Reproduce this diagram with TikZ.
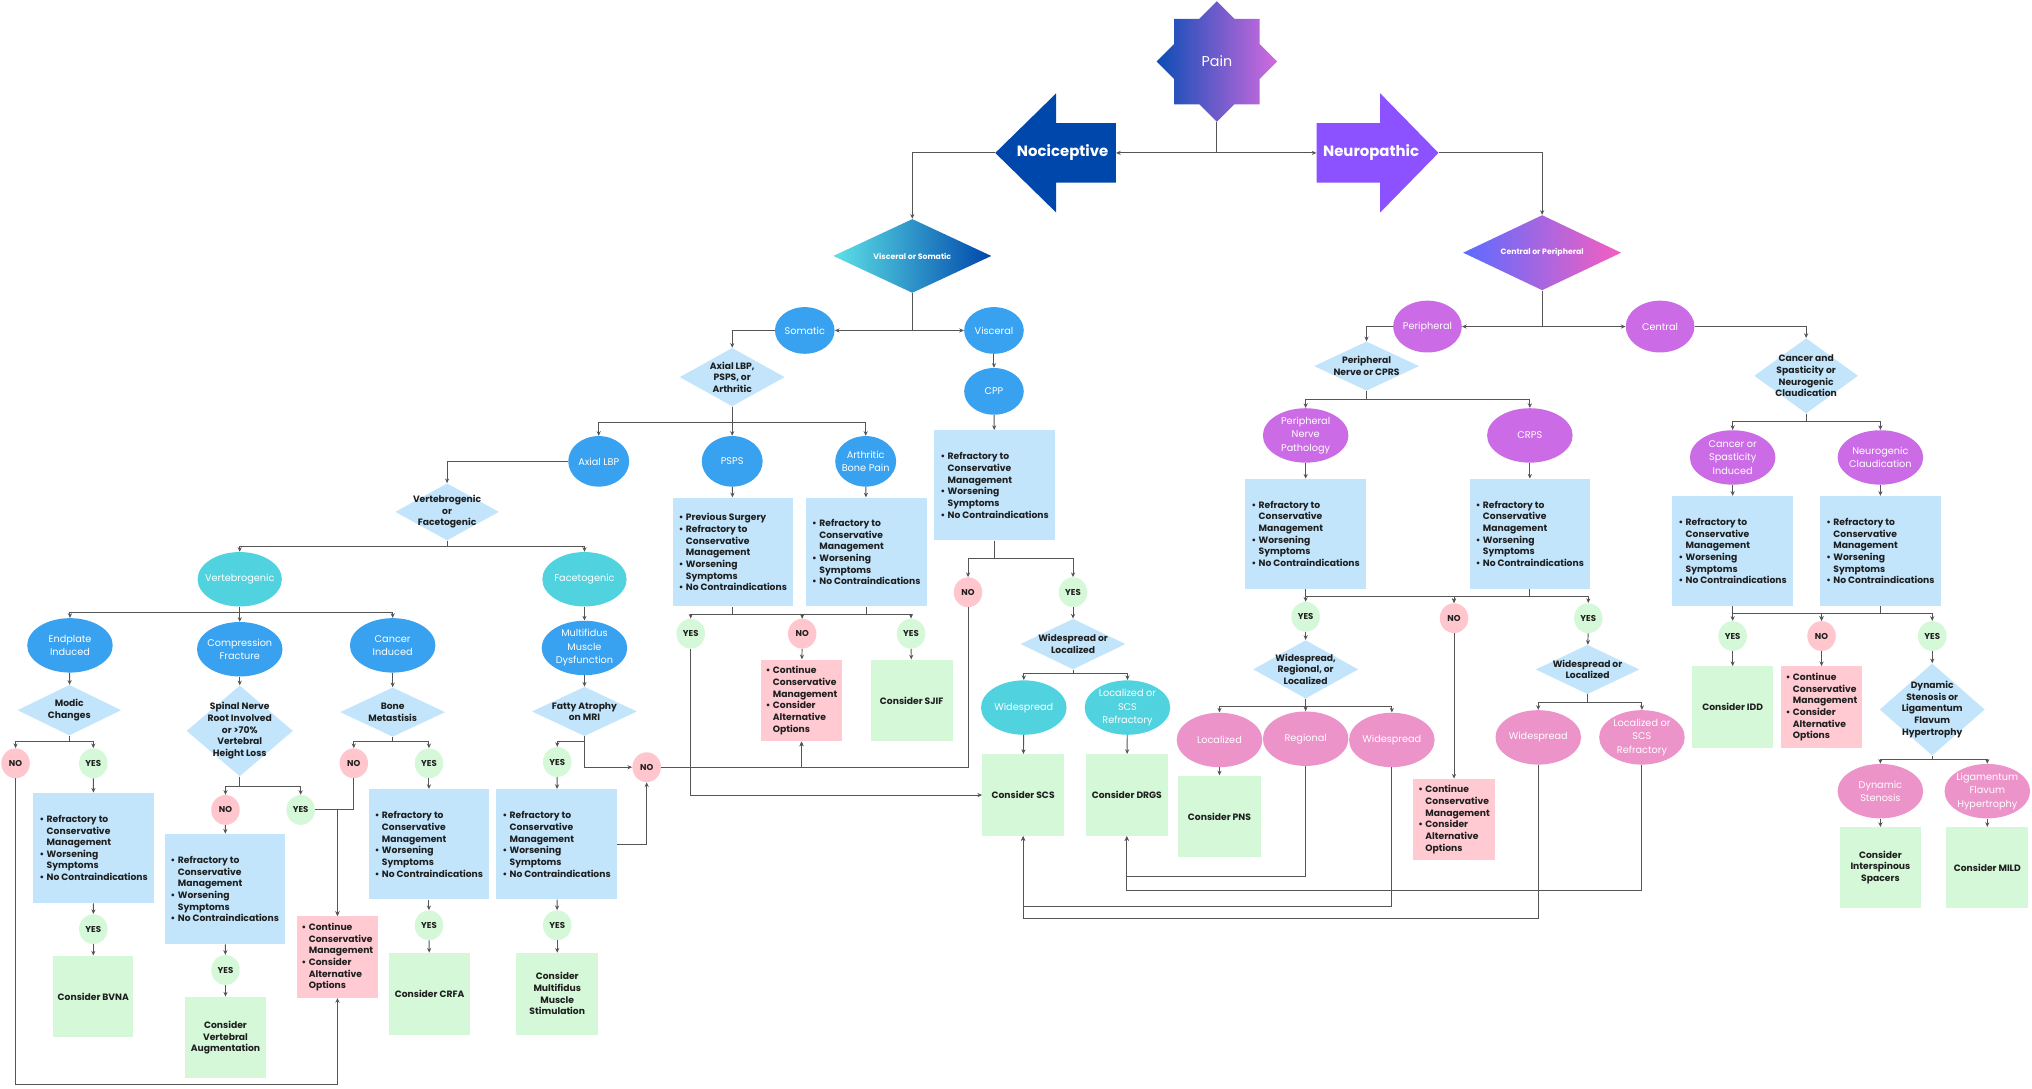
\documentclass[tikz,border=0pt]{standalone}
\usepackage{fontspec}
\setmainfont{Poppins}
\usetikzlibrary{shapes.geometric,arrows.meta}
\definecolor{lineC}{HTML}{555555}
\definecolor{lblue}{HTML}{C2E5FC}
\definecolor{lgreen}{HTML}{D5F8D8}
\definecolor{lpink}{HTML}{FFCAD2}
\definecolor{bblue}{HTML}{38A1F0}
\definecolor{turq}{HTML}{50D3DF}
\definecolor{purp}{HTML}{CB6CE6}
\definecolor{pinkE}{HTML}{EC93CA}
\definecolor{yesC}{HTML}{D5F8D8}
\definecolor{noC}{HTML}{FFC6CE}
\definecolor{nociC}{HTML}{0047AB}
\definecolor{neuroC}{HTML}{8C52FF}
\definecolor{txt}{HTML}{1E1E1E}
\definecolor{painL}{HTML}{0B4DB5}
\definecolor{painR}{HTML}{D36AE0}
\definecolor{vsL}{HTML}{5CE1E6}
\definecolor{vsR}{HTML}{0047AB}
\definecolor{cpL}{HTML}{5B6CFF}
\definecolor{cpR}{HTML}{F65FC0}
\newcommand\ftB{\fontsize{7.1}{9}\selectfont\bfseries}
\newcommand\ftE{\fontsize{7.5}{10.4}\selectfont}
\newcommand\ftY{\fontsize{6.6}{8}\selectfont\bfseries}
\newcommand\Bul{\makebox[5.5pt][l]{\textbullet}}
\newcommand\Ind{\hspace*{5.5pt}}
\newcommand\RefList{\Bul Refractory to\\\Ind Conservative\\\Ind Management\\\Bul Worsening\\\Ind Symptoms\\\Bul No Contraindications}
\newcommand\ContList{\Bul Continue\\\Ind Conservative\\\Ind Management\\\Bul Consider\\\Ind Alternative\\\Ind Options}
\tikzset{
  con/.style={draw=lineC, line width=0.75pt, -{Stealth[length=3.6pt,width=3.2pt]}},
  ell/.style={ellipse, inner sep=0pt, draw=none},
  E1/.style={minimum width=46pt, minimum height=36pt},
  E2/.style={minimum width=47pt, minimum height=39pt},
  E3/.style={minimum width=66pt, minimum height=42pt},
  E4/.style={minimum width=53pt, minimum height=40pt},
  etx/.style={text=white, font=\ftE, align=center, inner sep=0pt},
  dtx/.style={text=txt, font=\ftB, align=center, inner sep=0pt},
  dia/.style={diamond, inner sep=0pt, fill=lblue},
  bxB/.style={rectangle, inner sep=0pt, fill=lblue, minimum width=93pt, minimum height=85pt, font=\ftB, text=txt, align=left},
  bxG/.style={rectangle, inner sep=0pt, fill=lgreen, minimum width=63pt, minimum height=63pt, font=\ftB, text=txt, align=center},
  bxP/.style={rectangle, inner sep=0pt, fill=lpink, minimum width=63pt, minimum height=63pt, font=\ftB, text=txt, align=left},
  ynY/.style={ellipse, inner sep=0pt, fill=yesC, minimum width=22pt, minimum height=23pt, font=\ftY, text=txt},
  ynN/.style={ynY, fill=noC},
  arrtx/.style={text=white, font=\fontsize{11.5}{13}\selectfont\bfseries, inner sep=0pt},
}
\begin{document}
\begin{tikzpicture}[x=1pt,y=-1pt]
\useasboundingbox (0,0) rectangle (1568,840);
\fill[white] (0,0) rectangle (1568,840);

% ---------- top ----------
\shade[left color=painL, right color=painR] (939,1) -- (952.5,14.5) -- (972,14.5) -- (972,34) -- (985.5,47.5) -- (972,61) -- (972,80.5) -- (952.5,80.5) -- (939,94) -- (925.5,80.5) -- (906,80.5) -- (906,61) -- (892.5,47.5) -- (906,34) -- (906,14.5) -- (925.5,14.5) -- cycle;
\node[inner sep=0pt, minimum width=93pt, minimum height=93pt, text=white, font=\fontsize{11}{12}\selectfont] (pain) at (939,47.5) {Pain};
\fill[nociC] (768,118) -- (815,72) -- (815,95) -- (861,95) -- (861,141) -- (815,141) -- (815,164) -- cycle;
\node[inner sep=0pt, minimum width=93pt, minimum height=92pt] (noci) at (814.5,118) {};
\node[arrtx] (nocit) at (820,118) {Nociceptive};
\fill[neuroC] (1016,95) -- (1065,95) -- (1065,72) -- (1110,118) -- (1065,164) -- (1065,141) -- (1016,141) -- cycle;
\node[inner sep=0pt, minimum width=94pt, minimum height=92pt] (neuro) at (1063,118) {};
\node[arrtx] (neurot) at (1058,118) {Neuropathic};
\node[diamond, inner sep=0pt, minimum width=122pt, minimum height=57pt, left color=vsL, right color=vsR,
  label={[text=white,font=\fontsize{6}{7}\selectfont\bfseries]center:Visceral or Somatic}] (vs) at (704,197.5) {};
\node[diamond, inner sep=0pt, minimum width=122pt, minimum height=58pt, left color=cpL, right color=cpR,
  label={[text=white,font=\fontsize{6}{7}\selectfont\bfseries]center:Central or Peripheral}] (cp) at (1190,195) {};

% ---------- nociceptive side ----------
\node[ell,E1,fill=bblue,label={[etx]center:Somatic}] (somatic) at (621,255) {};
\node[ell,E1,fill=bblue,label={[etx]center:Visceral}] (visceral) at (767,255) {};
\node[dia,minimum width=81pt,minimum height=45pt,label={[dtx]center:{Axial LBP,\\PSPS, or\\Arthritic}}] (alp) at (565,291) {};
\node[ell,E1,fill=bblue,label={[etx]center:CPP}] (cpp) at (767,302) {};
\node[ell,E2,fill=bblue,label={[etx]center:Axial LBP}] (axial) at (462,356) {};
\node[ell,E2,fill=bblue,label={[etx]center:PSPS}] (psps) at (565,356) {};
\node[ell,E2,fill=bblue,label={[etx]center:{Arthritic\\Bone Pain}}] (arth) at (668,356) {};
\node[bxB] (cppbox) at (767.5,374.5) {\RefList};
\node[bxB,minimum height=84pt] (pspsbox) at (565.5,426) {\Bul Previous Surgery\\\RefList};
\node[bxB,minimum height=84pt] (arthbox) at (668.5,426) {\RefList};
\node[ynY] (yes1) at (533,489) {YES};
\node[ynN] (no1) at (619,489) {NO};
\node[ynY] (yes2) at (703,489) {YES};
\node[bxP] (cont1) at (618.5,540.5) {\ContList};
\node[bxG] (sjif) at (703.5,540.5) {Consider SJIF};
\node[ynN] (no2) at (747,457) {NO};
\node[ynY] (yes3) at (828,457) {YES};
\node[dia,minimum width=81pt,minimum height=39pt,label={[dtx]center:{Widespread or\\Localized}}] (wl1) at (828,497) {};
\node[ell,E3,fill=turq,label={[etx]center:Widespread}] (wsp1) at (790,546) {};
\node[ell,E3,fill=turq,label={[etx]center:{Localized or\\SCS\\Refractory}}] (lscs1) at (870,546) {};
\node[bxG] (scs) at (789.5,613.5) {Consider SCS};
\node[bxG] (drgs) at (869.5,613.5) {Consider DRGS};

% axial LBP branch
\node[dia,minimum width=80pt,minimum height=44pt,label={[dtx]center:{Vertebrogenic\\or\\Facetogenic}}] (vf) at (345,395) {};
\node[ell,minimum width=65pt,minimum height=42pt,fill=turq,label={[etx]center:Vertebrogenic}] (vert) at (185,447) {};
\node[ell,minimum width=65pt,minimum height=42pt,fill=turq,label={[etx]center:Facetogenic}] (facet) at (451,447) {};
\node[ell,E3,fill=bblue,label={[etx]center:{Endplate\\Induced}}] (endp) at (54,498) {};
\node[ell,E3,fill=bblue,label={[etx]center:{Compression\\Fracture}}] (comp) at (185,501) {};
\node[ell,E3,fill=bblue,label={[etx]center:{Cancer\\Induced}}] (canc) at (303,498) {};
\node[ell,E3,fill=bblue,label={[etx]center:{Multifidus\\Muscle\\Dysfunction}}] (mult) at (451,500) {};
\node[dia,minimum width=80pt,minimum height=39pt,label={[dtx]center:{Modic\\Changes}}] (modic) at (53.5,548) {};
\node[dia,minimum width=82pt,minimum height=70pt,label={[dtx]center:{Spinal Nerve\\Root Involved\\or >70\%\\Vertebral\\Height Loss}}] (snr) at (185,564) {};
\node[dia,minimum width=81pt,minimum height=38pt,label={[dtx]center:{Bone\\Metastisis}}] (bone) at (303,549.5) {};
\node[dia,minimum width=81pt,minimum height=38pt,label={[dtx]center:{Fatty Atrophy\\on MRI}}] (fatty) at (451,549) {};
\node[ynN] (no3) at (12,589) {NO};
\node[ynY] (yes4) at (72,589) {YES};
\node[ynN] (no4) at (273,589) {NO};
\node[ynY] (yes5) at (331,589) {YES};
\node[ynY] (yes6) at (430,588) {YES};
\node[ynN] (no5) at (499,592) {NO};
\node[ynN] (no6) at (174,625) {NO};
\node[ynY] (yes7) at (232,625) {YES};
\node[bxB] (ref1) at (72.3,654.3) {\RefList};
\node[ynY] (yes8) at (72,717) {YES};
\node[bxG,minimum width=62pt] (bvna) at (72,769) {Consider BVNA};
\node[bxB] (ref2) at (173.5,686) {\RefList};
\node[ynY] (yes9) at (174,748.5) {YES};
\node[bxG,minimum width=62pt] (va) at (174,800.7) {Consider\\Vertebral\\Augmentation};
\node[bxP] (cont2) at (260.4,738.5) {\ContList};
\node[bxB] (ref3) at (331,651.5) {\RefList};
\node[ynY] (yes10) at (331,714) {YES};
\node[bxG] (crfa) at (331.5,766.8) {Consider CRFA};
\node[bxB] (ref4) at (429.5,651.5) {\RefList};
\node[ynY] (yes11) at (430,714) {YES};
\node[bxG] (mms) at (430,766.8) {Consider\\Multifidus\\Muscle\\Stimulation};
\coordinate (botL) at (100,837);

% ---------- neuropathic side ----------
\node[ell,E4,fill=purp,label={[etx]center:Peripheral}] (periph) at (1101.5,252) {};
\node[ell,E4,fill=purp,label={[etx]center:Central}] (central) at (1281,252) {};
\node[dia,minimum width=81pt,minimum height=38pt,label={[dtx]center:{Peripheral\\Nerve or CPRS}}] (pnc) at (1054.5,282.5) {};
\node[dia,minimum width=80pt,minimum height=58pt,label={[dtx]center:{Cancer and\\Spasticity or\\Neurogenic\\Claudication}}] (csn) at (1393.7,290) {};
\node[ell,E3,fill=purp,label={[etx]center:{Peripheral\\Nerve\\Pathology}}] (pnp) at (1007.5,336) {};
\node[ell,E3,fill=purp,label={[etx]center:CRPS}] (crps) at (1180.5,336) {};
\node[bxB] (pnpbox) at (1007.5,412) {\RefList};
\node[bxB] (crpsbox) at (1180.5,412) {\RefList};
\node[ynY] (yes12) at (1007.5,476) {YES};
\node[ynN] (no7) at (1122,477) {NO};
\node[ynY] (yes13) at (1225.6,477) {YES};
\node[dia,minimum width=81pt,minimum height=45pt,label={[dtx]center:{Widespread,\\Regional, or\\Localized}}] (wrl) at (1007.5,516.5) {};
\node[ell,E3,fill=pinkE,label={[etx]center:Localized}] (loc) at (941,571) {};
\node[ell,E3,fill=pinkE,label={[etx]center:Regional}] (reg) at (1007.5,570) {};
\node[ell,E3,fill=pinkE,label={[etx]center:Widespread}] (wsp2) at (1074,571) {};
\node[bxG,minimum width=64pt] (pns) at (941,630) {Consider PNS};
\node[bxP] (cont3) at (1122,632.5) {\ContList};
\node[dia,minimum width=80pt,minimum height=38pt,label={[dtx]center:{Widespread or\\Localized}}] (wl2) at (1225,516.6) {};
\node[ell,E3,fill=pinkE,label={[etx]center:Widespread}] (wsp3) at (1187,569) {};
\node[ell,E3,fill=pinkE,label={[etx]center:{Localized or\\SCS\\Refractory}}] (lscs2) at (1267,569) {};
\node[ell,E3,fill=purp,label={[etx]center:{Cancer or\\Spasticity\\Induced}}] (csi) at (1337,353) {};
\node[ell,E3,fill=purp,label={[etx]center:{Neurogenic\\Claudication}}] (nc) at (1451,353) {};
\node[bxB] (csibox) at (1337,425.3) {\RefList};
\node[bxB] (ncbox) at (1451,425.3) {\RefList};
\node[ynY] (yes14) at (1337,490.8) {YES};
\node[ynN] (no8) at (1405.6,490.8) {NO};
\node[ynY] (yes15) at (1491,490.8) {YES};
\node[bxG] (idd) at (1337,545.7) {Consider IDD};
\node[bxP] (cont4) at (1405.6,545.7) {\ContList};
\node[dia,minimum width=81pt,minimum height=71pt,label={[dtx]center:{Dynamic\\Stenosis or\\Ligamentum\\Flavum\\Hypertrophy}}] (dsl) at (1491,547.5) {};
\node[ell,E3,fill=pinkE,label={[etx]center:{Dynamic\\Stenosis}}] (ds) at (1451,610.5) {};
\node[ell,E3,fill=pinkE,label={[etx]center:{Ligamentum\\Flavum\\Hypertrophy}}] (lfh) at (1533.5,610.5) {};
\node[bxG,minimum width=62pt,minimum height=62pt] (isp) at (1451,669.3) {Consider\\Interspinous\\Spacers};
\node[bxG,minimum height=62pt] (mild) at (1533.5,669.3) {Consider MILD};

% ---------- connectors ----------
\draw[con] (pain.south) |- (noci.east);
\draw[con] (pain.south) |- (neuro.west);
\draw[con] (noci.west) -| (vs.north);
\draw[con] (neuro.east) -| (cp.north);
\draw[con] (vs.south) |- (somatic.east);
\draw[con] (vs.south) |- (visceral.west);
\draw[con] (somatic.west) -| (alp.north);
\draw[con] (visceral) -- (cpp);
\draw[con] (cpp) -- (cppbox);
\draw[con] (alp.south) -- ++(0,12) -| (axial.north);
\draw[con] (alp.south) -- ++(0,12) -| (arth.north);
\draw[con] (alp.south) -- (psps.north);
\draw[con] (psps) -- (pspsbox);
\draw[con] (arth) -- (arthbox);
\draw[con] (pspsbox.south) -- ++(0,6) -| (yes1.north);
\draw[con] (pspsbox.south) -- ++(0,6) -| (no1.north);
\draw[con] (arthbox.south) -- ++(0,6) -| (no1.north);
\draw[con] (arthbox.south) -- ++(0,6) -| (yes2.north);
\draw[con] (no1) -- (cont1);
\draw[con] (yes2) -- (sjif);
\draw[con] (yes1.south) |- (scs.west);
\draw[con] (cppbox.south) -- ++(0,14) -| (no2.north);
\draw[con] (cppbox.south) -- ++(0,14) -| (yes3.north);
\draw[con] (no2.south) -- (no2.south |- no5) -| (cont1.south);
\draw[con] (no5.east) -| (cont1.south);
\draw[con] (yes3) -- (wl1);
\draw[con] (wl1.south) -- ++(0,3) -| (wsp1.north);
\draw[con] (wl1.south) -- ++(0,3) -| (lscs1.north);
\draw[con] (wsp1) -- (scs);
\draw[con] (lscs1) -- (drgs);

\draw[con] (axial.west) -| (vf.north);
\draw[con] (vf.south) -- ++(0,4.5) -| (vert.north);
\draw[con] (vf.south) -- ++(0,4.5) -| (facet.north);
\draw[con] (vert.south) -- ++(0,4.5) -| (endp.north);
\draw[con] (vert.south) -- (comp.north);
\draw[con] (vert.south) -- ++(0,4.5) -| (canc.north);
\draw[con] (facet) -- (mult);
\draw[con] (endp) -- (modic);
\draw[con] (comp) -- (snr);
\draw[con] (canc) -- (bone);
\draw[con] (mult) -- (fatty);
\draw[con] (modic.south) -- ++(0,4.5) -| (no3.north);
\draw[con] (modic.south) -- ++(0,4.5) -| (yes4.north);
\draw[con] (bone.south) -- ++(0,3.5) -| (no4.north);
\draw[con] (bone.south) -- ++(0,3.5) -| (yes5.north);
\draw[con] (fatty.south) -- ++(0,4) -| (yes6.north);
\draw[con] (fatty.south) |- (no5.west);
\draw[con] (snr.south) -- ++(0,8) -| (no6.north);
\draw[con] (snr.south) -- ++(0,8) -| (yes7.north);
\draw[con] (yes4) -- (ref1);
\draw[con] (ref1) -- (yes8);
\draw[con] (yes8) -- (bvna);
\draw[con] (no6) -- (ref2);
\draw[con] (ref2) -- (yes9);
\draw[con] (yes9) -- (va);
\draw[con] (yes7.east) -| (cont2.north);
\draw[con] (no4.south) -- (no4.south |- yes7) -| (cont2.north);
\draw[con] (no3.south) |- (botL) -| (cont2.south);
\draw[con] (yes5) -- (ref3);
\draw[con] (ref3) -- (yes10);
\draw[con] (yes10) -- (crfa);
\draw[con] (yes6) -- (ref4);
\draw[con] (ref4) -- (yes11);
\draw[con] (yes11) -- (mms);
\draw[con] (ref4.east) -| (no5.south);

\draw[con] (cp.south) |- (periph.east);
\draw[con] (cp.south) |- (central.west);
\draw[con] (periph.west) -| (pnc.north);
\draw[con] (central.east) -| (csn.north);
\draw[con] (pnc.south) -- ++(0,6.5) -| (pnp.north);
\draw[con] (pnc.south) -- ++(0,6.5) -| (crps.north);
\draw[con] (pnp) -- (pnpbox);
\draw[con] (crps) -- (crpsbox);
\draw[con] (pnpbox.south) -- (yes12.north);
\draw[con] (pnpbox.south) -- ++(0,5.5) -| (no7.north);
\draw[con] (crpsbox.south) -- ++(0,5.5) -| (no7.north);
\draw[con] (crpsbox.south) -- ++(0,5.5) -| (yes13.north);
\draw[con] (no7) -- (cont3);
\draw[con] (yes12) -- (wrl);
\draw[con] (yes13) -- (wl2);
\draw[con] (wrl.south) -- ++(0,6) -| (loc.north);
\draw[con] (wrl.south) -- (reg.north);
\draw[con] (wrl.south) -- ++(0,6) -| (wsp2.north);
\draw[con] (loc) -- (pns);
\draw[con] (wl2.south) -- ++(0,6) -| (wsp3.north);
\draw[con] (wl2.south) -- ++(0,6) -| (lscs2.north);
\draw[con] (reg.south) -- ++(0,85.4) -| (drgs.south);
\draw[con] (lscs2.south) -- ++(0,96.7) -| (drgs.south);
\draw[con] (wsp2.south) -- ++(0,107.6) -| (scs.south);
\draw[con] (wsp3.south) -- ++(0,118.6) -| (scs.south);

\draw[con] (csn.south) -- ++(0,6) -| (csi.north);
\draw[con] (csn.south) -- ++(0,6) -| (nc.north);
\draw[con] (csi) -- (csibox);
\draw[con] (nc) -- (ncbox);
\draw[con] (csibox.south) -- (yes14.north);
\draw[con] (csibox.south) -- ++(0,5.5) -| (no8.north);
\draw[con] (ncbox.south) -- ++(0,5.5) -| (no8.north);
\draw[con] (ncbox.south) -- ++(0,5.5) -| (yes15.north);
\draw[con] (yes14) -- (idd);
\draw[con] (no8) -- (cont4);
\draw[con] (yes15) -- (dsl);
\draw[con] (dsl.south) -- ++(0,3) -| (ds.north);
\draw[con] (dsl.south) -- ++(0,3) -| (lfh.north);
\draw[con] (ds) -- (isp);
\draw[con] (lfh) -- (mild);
\end{tikzpicture}
\end{document}
